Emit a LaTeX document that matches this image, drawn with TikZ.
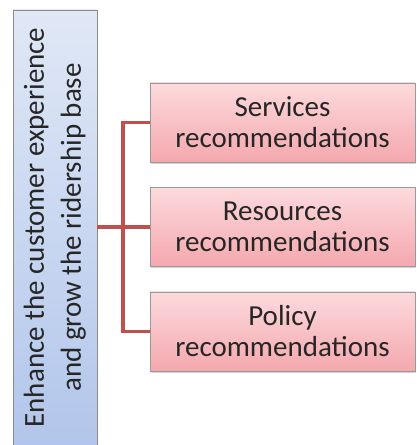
\documentclass[tikz,border=0pt]{standalone}
\usepackage{fontspec}
\setmainfont{Carlito}
\usetikzlibrary{positioning, shadows}

\definecolor{goalTop}{RGB}{224,232,246}
\definecolor{goalBottom}{RGB}{178,198,235}
\definecolor{recTop}{RGB}{252,218,221}
\definecolor{recBottom}{RGB}{244,168,174}
\definecolor{linkRed}{RGB}{192,80,77}
\definecolor{textGray}{RGB}{38,38,38}

\begin{document}
\begin{tikzpicture}[x=1pt, y=1pt, node distance=25pt, goal/.style={
        rectangle,
        draw=black!45,
        top color=goalTop,
        bottom color=goalBottom,
        text=textGray,
        minimum width=84pt,
        minimum height=435pt,
        inner sep=0pt,
        font=\fontsize{29}{37}\selectfont
    }, rec/.style={
        rectangle,
        draw=black!40,
        top color=recTop,
        bottom color=recBottom,
        text=textGray,
        minimum width=265pt,
        minimum height=79pt,
        inner sep=0pt,
        align=center,
        font=\fontsize{29}{31}\selectfont,
        drop shadow={shadow xshift=1pt, shadow yshift=-2pt, opacity=.35}
    }, link/.style={
        draw=linkRed, line width=3.5pt
    }]
    \useasboundingbox (0,0) rectangle (417,445);
    \node (goal) [goal] at (55,217.5) {\rotatebox{90}{\begin{tabular}{@{}c@{}}Enhance the customer experience\\and grow the ridership base\end{tabular}}};
    \node (services) [rec] at (282.5,322.5) {Services\\recommendations};
    \node (resources) [rec, below=of services] {Resources\\recommendations};
    \node (policy) [rec, below=of resources] {Policy\\recommendations};
    \draw [link] (goal.east |- resources.west) -- (resources.west);
    \draw [link] (services.west) -- ++(-27,0) |- (policy.west);

\end{tikzpicture}
\end{document}
